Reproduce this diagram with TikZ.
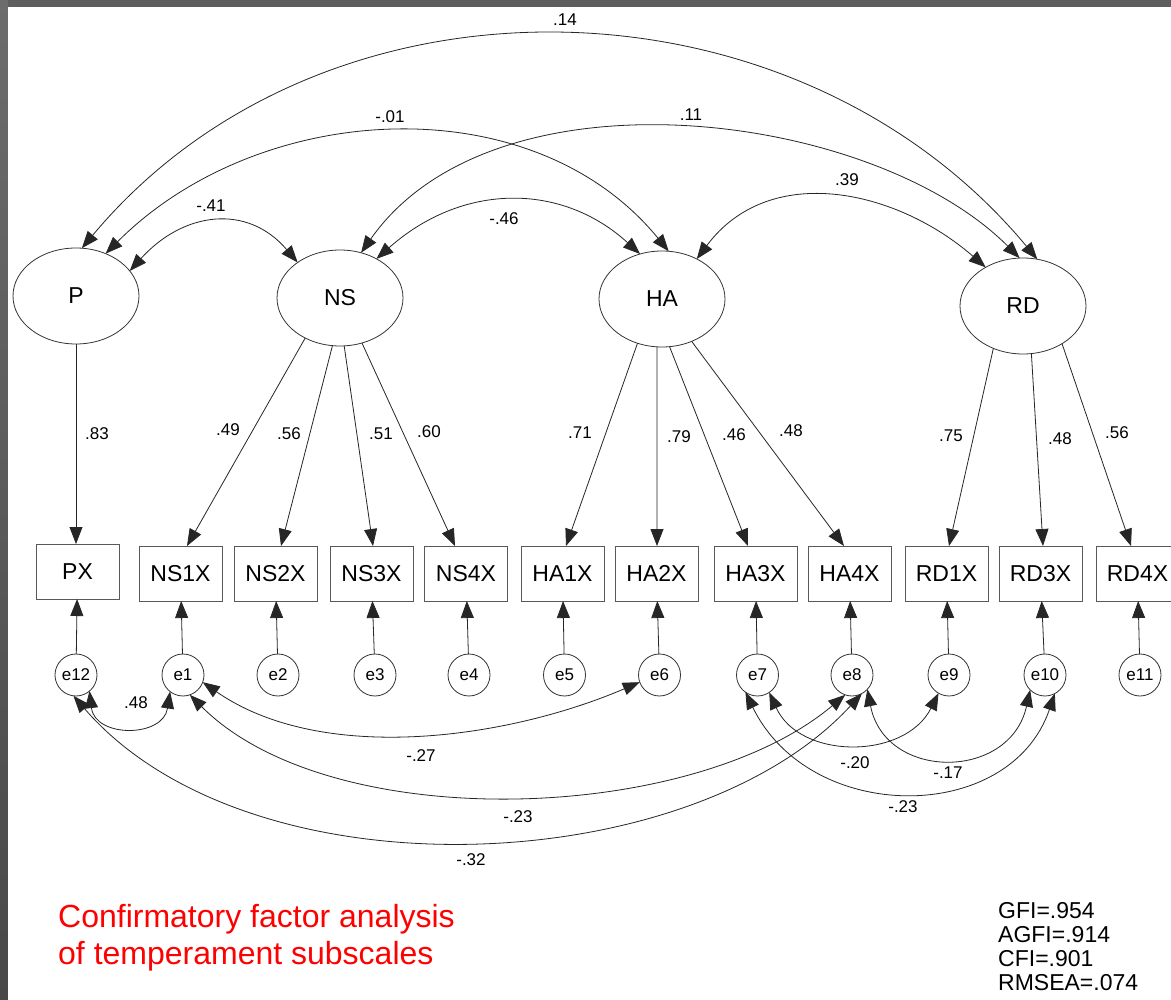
\documentclass[tikz,border=0pt]{standalone}
\usepackage{fontspec}
\setmainfont{Liberation Sans}
\usetikzlibrary{arrows.meta,shapes.geometric}

\begin{document}
\begin{tikzpicture}[x=1pt,y=-1pt,
  conn/.style={draw=black!85, line width=0.8pt},
  head/.style={-{Triangle[length=17pt,width=13pt]}},
  cov/.style={conn,{Triangle[length=17pt,width=13pt]}-{Triangle[length=17pt,width=13pt]}},
  latent/.style={ellipse, draw=black!80, line width=0.8pt, minimum width=126pt,
    minimum height=96pt, inner sep=0pt, outer sep=0pt, font=\fontsize{23}{27}\selectfont},
  obs/.style={rectangle, draw=black!65, line width=0.9pt, minimum width=83pt,
    minimum height=55pt, inner sep=0pt, outer sep=0pt, font=\fontsize{23}{27}\selectfont},
  err/.style={circle, draw=black!80, line width=0.8pt, minimum size=42pt,
    inner sep=0pt, outer sep=0pt, font=\fontsize{17}{20}\selectfont},
  lbl/.style={font=\fontsize{17}{20}\selectfont, inner sep=0pt}
]
\useasboundingbox (0,0) rectangle (1171,1000);
\clip (0,0) rectangle (1171,1000);

% slide frame
\fill[color={rgb,255:red,94;green,94;blue,94}] (0,0) rectangle (1171,7);
\shade[top color={rgb,255:red,108;green,108;blue,108}, bottom color={rgb,255:red,72;green,72;blue,72}]
  (0,0) rectangle (8,1000);
\fill[white] (8,7) rectangle (1171,1000);

% latent factors
\node[latent] (P)  at (76,296)   {P};
\node[latent] (NS) at (340,298)  {NS};
\node[latent] (HA) at (662,299)  {HA};
\node[latent] (RD) at (1023,306) {RD};

% observed subscales
\node[obs] (PX)   at (77.5,571.5)  {PX};
\node[obs] (NS1X) at (180.5,573.5) {NS1X};
\node[obs] (NS2X) at (275.5,573.5) {NS2X};
\node[obs] (NS3X) at (371.5,573.5) {NS3X};
\node[obs] (NS4X) at (466,573.5)   {NS4X};
\node[obs] (HA1X) at (562.5,573.5) {HA1X};
\node[obs] (HA2X) at (656.5,573.5) {HA2X};
\node[obs] (HA3X) at (755.5,573.5) {HA3X};
\node[obs] (HA4X) at (849.5,573.5) {HA4X};
\node[obs] (RD1X) at (946.5,573.5) {RD1X};
\node[obs] (RD3X) at (1040.5,573.5) {RD3X};
\node[obs] (RD4X) at (1137.5,573.5) {RD4X};

% residuals
\node[err] (e12) at (76,675)    {e12};
\node[err] (e1)  at (183,675)   {e1};
\node[err] (e2)  at (278,675)   {e2};
\node[err] (e3)  at (375,675)   {e3};
\node[err] (e4)  at (469,675)   {e4};
\node[err] (e5)  at (564.5,675) {e5};
\node[err] (e6)  at (659.5,675) {e6};
\node[err] (e7)  at (757.5,675) {e7};
\node[err] (e8)  at (852,675)   {e8};
\node[err] (e9)  at (949,675)   {e9};
\node[err] (e10) at (1045,675)  {e10};
\node[err] (e11) at (1140,675)  {e11};

% residual paths
\foreach \e/\x in {e12/PX,e1/NS1X,e2/NS2X,e3/NS3X,e4/NS4X,e5/HA1X,e6/HA2X,e7/HA3X,e8/HA4X,e9/RD1X,e10/RD3X,e11/RD4X}
  \draw[conn,head] (\e) -- (\x);

% factor loadings
\draw[conn,head] (P.south) -- (P.south |- PX.north);
\draw[conn,head] (NS.229)   -- ([xshift=6.5pt]NS1X.north);
\draw[conn,head] (NS.261.5) -- ([xshift=5.5pt]NS2X.north);
\draw[conn,head] (NS.275)   -- ([xshift=1.5pt]NS3X.north);
\draw[conn,head] (NS.296)   -- ([xshift=-11pt]NS4X.north);
\draw[conn,head] (HA.241.5) -- ([xshift=3.5pt]HA1X.north);
\draw[conn,head] (HA.264)   -- ([xshift=0.5pt]HA2X.north);
\draw[conn,head] (HA.279.5) -- ([xshift=-7.5pt]HA3X.north);
\draw[conn,head] (HA.305)   -- ([xshift=-5.5pt]HA4X.north);
\draw[conn,head] (RD.235)   -- ([xshift=2.5pt]RD1X.north);
\draw[conn,head] (RD.280)   -- ([xshift=2.5pt]RD3X.north);
\draw[conn,head] (RD.316)   -- ([xshift=-6.5pt]RD4X.north);

% factor covariances
\draw[cov] (P.83)  .. controls (325,-43) and (795,-32) .. (RD.73);
\draw[cov] (P.55)  .. controls (259,100) and (532,84)  .. (HA.82);
\draw[cov] (NS.65) .. controls (494,63)  and (872,110) .. (RD.94);
\draw[cov] (P.25)  .. controls (183,212) and (247,203) .. (NS.140);
\draw[cov] (NS.47) .. controls (462,183) and (561,182) .. (HA.116);
\draw[cov] (HA.49) .. controls (770,161) and (897,190) .. (RD.134);

% residual covariances
\draw[cov] (e12.-50)  .. controls (95,738)  and (163,738) .. (e1.-128);
\draw[cov] (e1.-20)   .. controls (322,765) and (507,739) .. (e6.200);
\draw[cov] (e1.-71)   .. controls (331,836) and (692,824) .. (e8.-109);
\draw[cov] (e12.-97)  .. controls (250,900) and (690,880) .. (e8.-62);
\draw[cov] (e7.-56)   .. controls (800,760) and (905,760) .. (e9.-120);
\draw[cov] (e8.-43)   .. controls (885,781) and (1010,781) .. (e10.-135);
\draw[cov] (e7.-125)  .. controls (810,825) and (1010,825) .. (e10.-62);

% coefficients: factor covariances
\node[lbl] (k14) at (565,20)  {.14};
\node[lbl] (k01) at (390,117) {-.01};
\node[lbl] (k11) at (691,115) {.11};
\node[lbl] (k41) at (211,206) {-.41};
\node[lbl] (k46) at (504,219) {-.46};
\node[lbl] (k39) at (847,180) {.39};

% coefficients: loadings
\node[lbl] (l1)  at (97,434)   {.83};
\node[lbl] (l2)  at (228,430)  {.49};
\node[lbl] (l3)  at (289,434)  {.56};
\node[lbl] (l4)  at (381,434)  {.51};
\node[lbl] (l5)  at (429,432)  {.60};
\node[lbl] (l6)  at (580,433)  {.71};
\node[lbl] (l7)  at (679,437)  {.79};
\node[lbl] (l8)  at (734,435)  {.46};
\node[lbl] (l9)  at (791,431)  {.48};
\node[lbl] (l10) at (951,436)  {.75};
\node[lbl] (l11) at (1060,439) {.48};
\node[lbl] (l12) at (1117,433) {.56};

% coefficients: residual covariances
\node[lbl] (r1) at (136,703) {.48};
\node[lbl] (r2) at (421,756) {-.27};
\node[lbl] (r3) at (518,817) {-.23};
\node[lbl] (r4) at (471,860) {-.32};
\node[lbl] (r5) at (855,763) {-.20};
\node[lbl] (r6) at (948,773) {-.17};
\node[lbl] (r7) at (903,807) {-.23};

% caption
\node[anchor=base west, inner sep=0pt, text=red, font=\fontsize{32}{37}\selectfont] (cap1) at (58,927) {Confirmatory factor analysis};
\node[anchor=base west, inner sep=0pt, text=red, font=\fontsize{32}{37}\selectfont] (cap2) at (58,964) {of temperament subscales};

% fit indices
\node[anchor=base west, inner sep=0pt, font=\fontsize{23}{25}\selectfont] (f1) at (998,918) {GFI=.954};
\node[anchor=base west, inner sep=0pt, font=\fontsize{23}{25}\selectfont] (f2) at (998,942) {AGFI=.914};
\node[anchor=base west, inner sep=0pt, font=\fontsize{23}{25}\selectfont] (f3) at (998,966) {CFI=.901};
\node[anchor=base west, inner sep=0pt, font=\fontsize{23}{25}\selectfont] (f4) at (998,990) {RMSEA=.074};
\end{tikzpicture}
\end{document}
